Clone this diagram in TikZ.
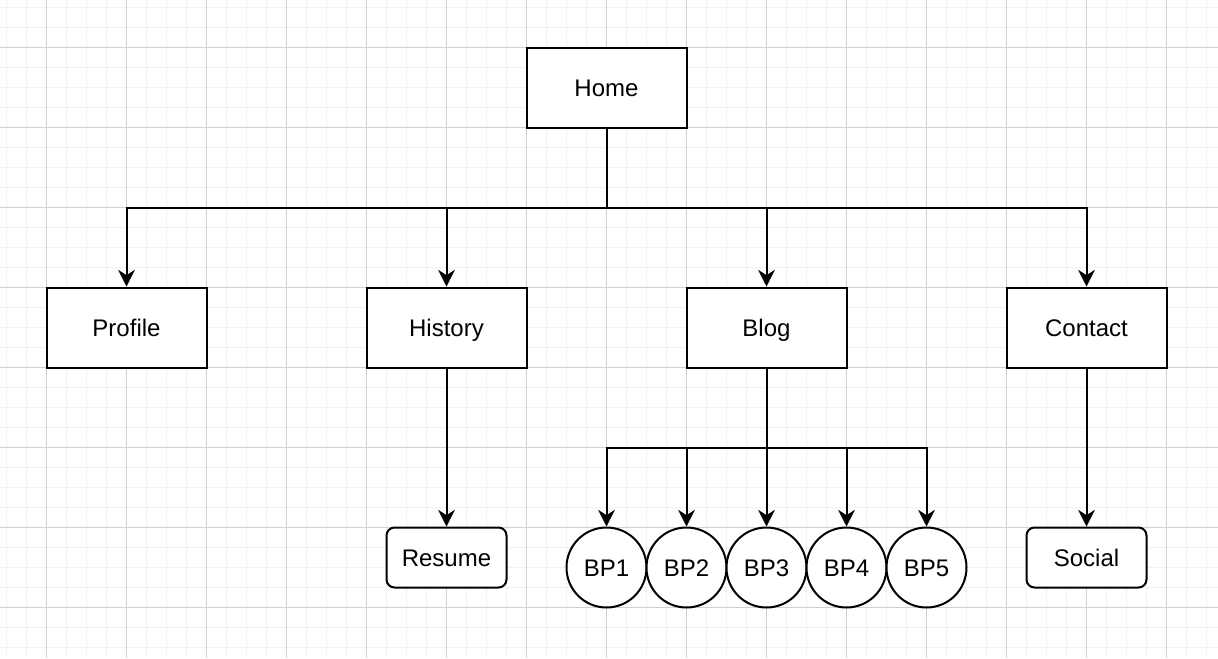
\documentclass[tikz,border=0pt]{standalone}
\usepackage{fontspec}
\setmainfont{Liberation Sans}
\usetikzlibrary{arrows.meta}
\definecolor{minorgrid}{HTML}{F1F1F1}
\definecolor{majorgrid}{HTML}{D2D2D2}
\tikzstyle{page}=[draw,line width=1.5pt,fill=white,minimum width=120pt,minimum height=60pt,inner sep=0pt,text height=15pt,text depth=2pt,font=\fontsize{18}{21}\selectfont]
\tikzstyle{leaf}=[page,rounded corners=6pt,minimum width=90pt,minimum height=45pt]
\tikzstyle{post}=[page,circle,minimum size=60pt]
\tikzstyle{link}=[line width=1.5pt,-{Stealth[length=12.5pt,width=12.5pt,inset=4pt]}]

\begin{document}
\begin{tikzpicture}[x=0.75pt,y=-0.75pt]
    \useasboundingbox[fill=white] (-6.5,-7.5) rectangle (1211.5,650.5);
    % grid
    \foreach \gx in {0,20,...,1200} \draw[minorgrid,line width=1.2pt] (\gx,-7.5) -- (\gx,650.5);
    \foreach \gy in {0,20,...,640} \draw[minorgrid,line width=1.2pt] (-6.5,\gy) -- (1211.5,\gy);
    \foreach \gx in {40,120,...,1160} \draw[majorgrid,line width=0.75pt] (\gx,-7.5) -- (\gx,650.5);
    \foreach \gy in {40,120,...,600} \draw[majorgrid,line width=0.75pt] (-6.5,\gy) -- (1211.5,\gy);

    \node[page] (home)    at (600,80)  {Home};
    \node[page] (profile) at (120,320) {Profile};
    \node[page] (history) at (440,320) {History};
    \node[page] (blog)    at (760,320) {Blog};
    \node[page] (contact) at (1080,320) {Contact};
    \node[leaf] (resume)  at (440,550) {Resume};
    \node[leaf] (social)  at (1080,550) {Social};
    \node[post] (bp1) at (600,560) {BP1};
    \node[post] (bp2) at (680,560) {BP2};
    \node[post] (bp3) at (760,560) {BP3};
    \node[post] (bp4) at (840,560) {BP4};
    \node[post] (bp5) at (920,560) {BP5};

    \coordinate (hbus) at (600,200);
    \coordinate (bbus) at (760,440);
    \draw[line width=1.5pt] (home) -- (hbus);
    \draw[link] (hbus) -| (profile);
    \draw[link] (hbus) -| (history);
    \draw[link] (hbus) -| (blog);
    \draw[link] (hbus) -| (contact);
    \draw[link] (history) -- (resume);
    \draw[link] (contact) -- (social);
    \draw[line width=1.5pt] (blog) -- (bbus);
    \draw[link] (bbus) -| (bp1);
    \draw[link] (bbus) -| (bp2);
    \draw[link] (bbus) -- (bp3);
    \draw[link] (bbus) -| (bp4);
    \draw[link] (bbus) -| (bp5);
\end{tikzpicture}
\end{document}
